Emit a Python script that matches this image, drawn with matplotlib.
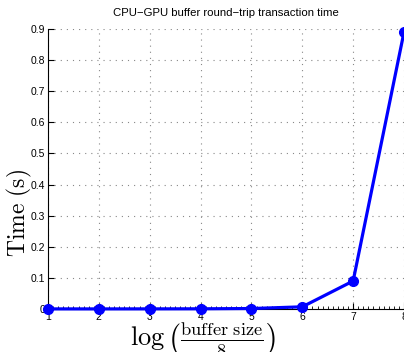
import matplotlib
matplotlib.use("Agg")
import matplotlib.pyplot as plt
from matplotlib.ticker import MultipleLocator

# buffer size exponent and measured round-trip time
log_size = [1, 2, 3, 4, 5, 6, 7, 8]
time_s = [0.0003, 0.0003, 0.0004, 0.0006, 0.0015, 0.007, 0.09, 0.89]
y_ticks = [0, 0.1, 0.2, 0.3, 0.4, 0.5, 0.6, 0.7, 0.8, 0.9]
y_tick_labels = ["0", "0.1", "0.2", "0.3", "0.4", "0.5", "0.6", "0.7", "0.8", "0.9"]

plt.rcParams["font.family"] = ["Liberation Sans", "DejaVu Sans"]
plt.rcParams["mathtext.fontset"] = "cm"

fig = plt.figure(figsize=(4.04, 3.52), dpi=100)
ax = fig.add_axes([48 / 404, 1 - 309 / 352, 356 / 404, 280 / 352])

ax.plot(log_size, time_s, "-o", color="#0000ff", linewidth=2.3,
        markersize=7, clip_on=False, zorder=5)

ax.set_xlim(1, 8)
ax.set_ylim(0, 0.9)
ax.set_xticks(log_size)
ax.set_yticks(y_ticks)
ax.set_yticklabels(y_tick_labels)
ax.xaxis.set_minor_locator(MultipleLocator(0.1))
ax.tick_params(direction="in", labelsize=7.5, length=4, pad=2)
ax.tick_params(axis="x", which="minor", direction="in", length=2)
ax.tick_params(axis="y", which="minor", length=0)

ax.grid(True, linestyle=(0, (1, 4.5)), color="#888888", linewidth=0.8)
ax.spines["top"].set_visible(False)
ax.spines["right"].set_visible(False)

ax.set_title("CPU\u2212GPU buffer round\u2212trip transaction time",
             fontsize=8.2, pad=9)
ax.set_xlabel(r"$\log\left(\frac{\mathrm{buffer\ size}}{8}\right)$", fontsize=19)
ax.xaxis.set_label_coords((203 - 48) / 356, -0.04)
ax.xaxis.label.set_va("top")
ax.set_ylabel(r"$\mathrm{Time\ (s)}$", fontsize=17)
ax.yaxis.set_label_coords(-0.04, (309 - 213) / 280)

fig.savefig("out.png", dpi=100)
